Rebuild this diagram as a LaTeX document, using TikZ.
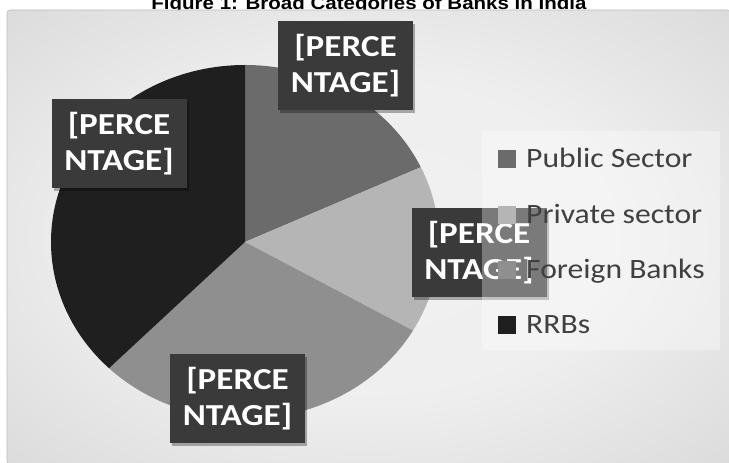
\documentclass[tikz,border=0pt]{standalone}
\usepackage{fontspec}
\setmainfont{Carlito}
\newfontfamily\lblfont{Carlito}[FakeStretch=1.15]
\newfontfamily\legfont{Carlito}[FakeStretch=1.13]
\newfontfamily\titlefont{Liberation Sans}[FakeStretch=1.14]
\usetikzlibrary{shadows}
\definecolor{pubc}{HTML}{6B6B6B}
\definecolor{privc}{HTML}{B5B5B5}
\definecolor{forc}{HTML}{8F8F8F}
\definecolor{rrbc}{HTML}{1F1F1F}
\definecolor{lblc}{HTML}{3A3A3A}
\definecolor{legtext}{HTML}{404040}
\definecolor{bgedge}{HTML}{BDBDBD}
\pgfdeclareradialshading{bgshade}{\pgfpoint{0bp}{0bp}}{rgb(0bp)=(.945,.945,.945); rgb(18bp)=(.935,.935,.935); rgb(50bp)=(.80,.80,.80); rgb(72bp)=(.76,.76,.76)}
\begin{document}
\begin{tikzpicture}[x=1pt,y=1pt,
  lbl/.style={fill=lblc, text=white, font=\lblfont\bfseries\fontsize{30.5}{36}\selectfont,
    align=center, minimum width=135pt, minimum height=89pt, inner sep=0pt,
    drop shadow={shadow xshift=2pt, shadow yshift=-3pt, opacity=0.3, fill=black}},
  legsq/.style={fill=#1, minimum size=18pt, inner sep=0pt},
  legtxt/.style={anchor=base west, text=legtext, font=\legfont\fontsize{28}{32}\selectfont, inner sep=0pt},
  slice/.style={fill=#1}
]
\useasboundingbox (0,0) rectangle (729,463);
\node[font=\titlefont\bfseries\fontsize{18}{20}\selectfont, anchor=base, inner sep=0pt] (title) at (369,453.5) {Figure 1: Broad Categories of Banks in India};
\shade[shading=bgshade, draw=bgedge, line width=0.6pt, rounded corners=3pt] (7,-1) rectangle (730,453);
% pie
\coordinate (pc) at (245,221);
\fill[slice=pubc] (pc) -- ++(25:194pt and 177pt) arc[start angle=25, end angle=90, x radius=194pt, y radius=177pt] -- cycle;
\fill[slice=privc] (pc) -- ++(-30:194pt and 177pt) arc[start angle=-30, end angle=25, x radius=194pt, y radius=177pt] -- cycle;
\fill[slice=forc] (pc) -- ++(-134.5:194pt and 177pt) arc[start angle=-134.5, end angle=-30, x radius=194pt, y radius=177pt] -- cycle;
\fill[slice=rrbc] (pc) -- ++(90:194pt and 177pt) arc[start angle=90, end angle=225.5, x radius=194pt, y radius=177pt] -- cycle;
% data labels
\node[lbl] (lpub) at (345.5,397.5) {[PERCE\\NTAGE]};
\node[lbl] (lrrb) at (119,319.5) {[PERCE\\NTAGE]};
\node[lbl] (lfor) at (237.5,64.5) {[PERCE\\NTAGE]};
\node[lbl] (lpriv) at (479,210) {[PERCE\\NTAGE]};
% legend
\node[fill=white, fill opacity=0.33, minimum width=238pt, minimum height=219pt, inner sep=0pt] (legend) at (601,222.5) {};
\node[legsq=pubc] (sq1) at (507,304) {};
\node[legtxt] (t1) at (526,295) {Public Sector};
\node[legsq=privc] (sq2) at (507,248) {};
\node[legtxt] (t2) at (526,239) {Private sector};
\node[legsq=forc] (sq3) at (507,193) {};
\node[legtxt] (t3) at (526,184) {Foreign Banks};
\node[legsq=rrbc] (sq4) at (507,138) {};
\node[legtxt] (t4) at (526,129) {RRBs};
\end{tikzpicture}
\end{document}
